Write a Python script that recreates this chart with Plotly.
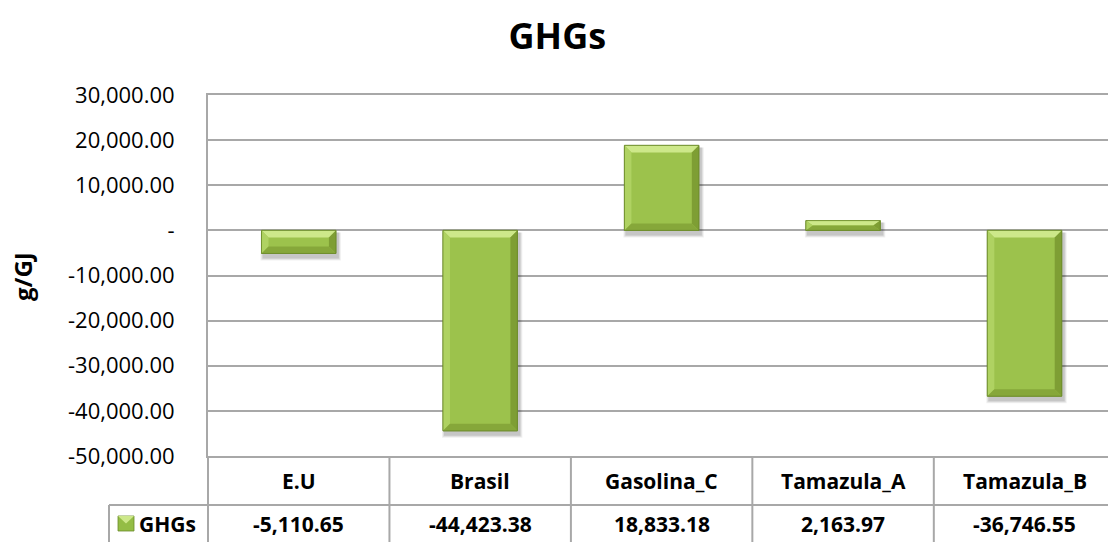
import plotly.graph_objects as go

# GHG balance per scenario (g/GJ)
categories = ["E.U", "Brasil", "Gasolina_C", "Tamazula_A", "Tamazula_B"]
ghgs = [-5110.65, -44423.38, 18833.18, 2163.97, -36746.55]
series_name = "GHGs"
axis_title = "g/GJ"
chart_title = "GHGs"
tick_values = [30000, 20000, 10000, 0, -10000, -20000, -30000, -40000, -50000]
tick_labels = ["30,000.00", "20,000.00", "10,000.00", "-", "-10,000.00",
               "-20,000.00", "-30,000.00", "-40,000.00", "-50,000.00"]

W, H = 1108, 542
M_L, M_R, M_T, M_B = 208, 0, 95, 86
Y_MIN, Y_MAX = -50000, 30000
X_RANGE = [-0.5, 4.46]
BAR_W = 0.41

plot_w = W - M_L - M_R
plot_h = H - M_T - M_B
px_x = (X_RANGE[1] - X_RANGE[0]) / plot_w      # data units per pixel (x)
px_y = (Y_MAX - Y_MIN) / plot_h                  # data units per pixel (y)
base = M_T + plot_h                              # pixel row of the plot bottom


def py(pix):
    """Pixel row -> paper y."""
    return (base - pix) / plot_h


def pxp(pix):
    """Pixel column -> paper x."""
    return (pix - M_L) / plot_w


GRID = "#A8A8A8"
FONT = "Open Sans"

positions = list(range(len(categories)))

fig = go.Figure()
fig.add_trace(go.Bar(
    x=positions, y=ghgs, width=BAR_W, name=series_name,
    marker=dict(color="#9CC24C", line=dict(color="#6B8A2A", width=0.8)),
    showlegend=False, hoverinfo="skip",
))

shapes = []

# soft drop shadow + bevel faces for each bar
bev = 7
for xi, v in zip(positions, ghgs):
    x0, x1 = xi - BAR_W / 2, xi + BAR_W / 2
    top, bot = max(0, v), min(0, v)
    for k, op in enumerate([0.10, 0.08, 0.06]):
        g = k + 1
        shapes.append(dict(
            type="rect", xref="x", yref="y", layer="between",
            x0=x0 - g * px_x + 2 * px_x, x1=x1 + g * px_x + 2 * px_x,
            y0=top - 2 * px_y, y1=bot - (4 + g) * px_y,
            fillcolor=f"rgba(0,0,0,{op})", line=dict(width=0)))
    dx = min(bev * px_x, BAR_W / 2)
    dy = min(bev * px_y, (top - bot) / 2)
    faces = [
        ([(x0, top), (x1, top), (x1 - dx, top - dy), (x0 + dx, top - dy)], "#CDE88A"),
        ([(x0, top), (x0 + dx, top - dy), (x0 + dx, bot + dy), (x0, bot)], "#AFD262"),
        ([(x1, top), (x1 - dx, top - dy), (x1 - dx, bot + dy), (x1, bot)], "#7E9E34"),
        ([(x0, bot), (x0 + dx, bot + dy), (x1 - dx, bot + dy), (x1, bot)], "#86A73A"),
    ]
    for pts, col in faces:
        path = "M " + " L ".join(f"{a},{b}" for a, b in pts) + " Z"
        shapes.append(dict(type="path", xref="x", yref="y", path=path,
                           fillcolor=col, line=dict(width=0), layer="above"))
    shapes.append(dict(type="rect", xref="x", yref="y", x0=x0, x1=x1, y0=bot, y1=top,
                       line=dict(color="#6B8A2A", width=0.8), layer="above"))

# data table under the plot
row_line = py(505)
tbl_bot = py(H + 4)
leg_x = pxp(109)

shapes.append(dict(type="line", xref="paper", yref="paper", x0=0, x1=0, y0=0, y1=tbl_bot,
                   line=dict(color=GRID, width=2)))
shapes.append(dict(type="line", xref="paper", yref="paper", x0=leg_x, x1=1, y0=row_line, y1=row_line,
                   line=dict(color=GRID, width=2)))
shapes.append(dict(type="line", xref="paper", yref="paper", x0=leg_x, x1=leg_x, y0=row_line, y1=tbl_bot,
                   line=dict(color=GRID, width=2)))
for xi in positions:
    shapes.append(dict(type="line", xref="x", yref="paper", x0=xi + 0.5, x1=xi + 0.5,
                       y0=0, y1=tbl_bot, line=dict(color=GRID, width=2)))

# legend key in the table
ix0, ix1 = pxp(118), pxp(134)
iy0, iy1 = py(531), py(516)
shapes.append(dict(type="rect", xref="paper", yref="paper", x0=ix0, x1=ix1, y0=iy0, y1=iy1,
                   fillcolor="#94BD45", line=dict(color="#6B8A2A", width=0.8)))
imx = (ix0 + ix1) / 2
shapes.append(dict(type="path", xref="paper", yref="paper",
                   path=f"M {ix0},{iy1} L {ix1},{iy1} L {imx},{(iy0 + iy1) / 2} Z",
                   fillcolor="#CDE88A", line=dict(width=0)))

annotations = []
hdr_y = py(481)
val_y = py(524)
cell_font = dict(family=FONT, size=21, color="#000")
for xi, cat, v in zip(positions, categories, ghgs):
    annotations.append(dict(x=xi, y=hdr_y, xref="x", yref="paper", text=f"<b>{cat}</b>",
                            xanchor="center", yanchor="middle", showarrow=False, font=cell_font))
    annotations.append(dict(x=xi, y=val_y, xref="x", yref="paper", text=f"<b>{v:,.2f}</b>",
                            xanchor="center", yanchor="middle", showarrow=False, font=cell_font))
annotations.append(dict(x=pxp(137), y=val_y, xref="paper", yref="paper",
                        xanchor="left", yanchor="middle", text=f"<b>{series_name}</b>",
                        showarrow=False, font=cell_font))
annotations.append(dict(x=pxp(22), y=py(277), xref="paper", yref="paper",
                        xanchor="center", yanchor="middle",
                        text=f"<b>{axis_title}</b>", textangle=-90,
                        showarrow=False, font=dict(family=FONT, size=24, color="#000")))

fig.update_layout(
    width=W, height=H,
    margin=dict(l=M_L, r=M_R, t=M_T, b=M_B, pad=0),
    paper_bgcolor="white", plot_bgcolor="white",
    title=dict(text=f"<b>{chart_title}</b>", x=0.503, xanchor="center",
               y=1 - 36 / H, yanchor="middle", yref="container",
               font=dict(family=FONT, size=36, color="#000")),
    xaxis=dict(range=X_RANGE, showticklabels=False, showgrid=False, zeroline=False,
               showline=True, mirror=True, linecolor=GRID, linewidth=2,
               ticks="", fixedrange=True),
    yaxis=dict(range=[Y_MIN, Y_MAX], tickvals=tick_values, ticktext=tick_labels,
               showgrid=True, gridcolor=GRID, gridwidth=2, zeroline=False,
               showline=True, linecolor=GRID, linewidth=2, ticks="",
               ticklabelstandoff=27,
               tickfont=dict(family=FONT, size=22, color="#000")),
    shapes=shapes, annotations=annotations, showlegend=False,
)

fig.write_html("out.html")
